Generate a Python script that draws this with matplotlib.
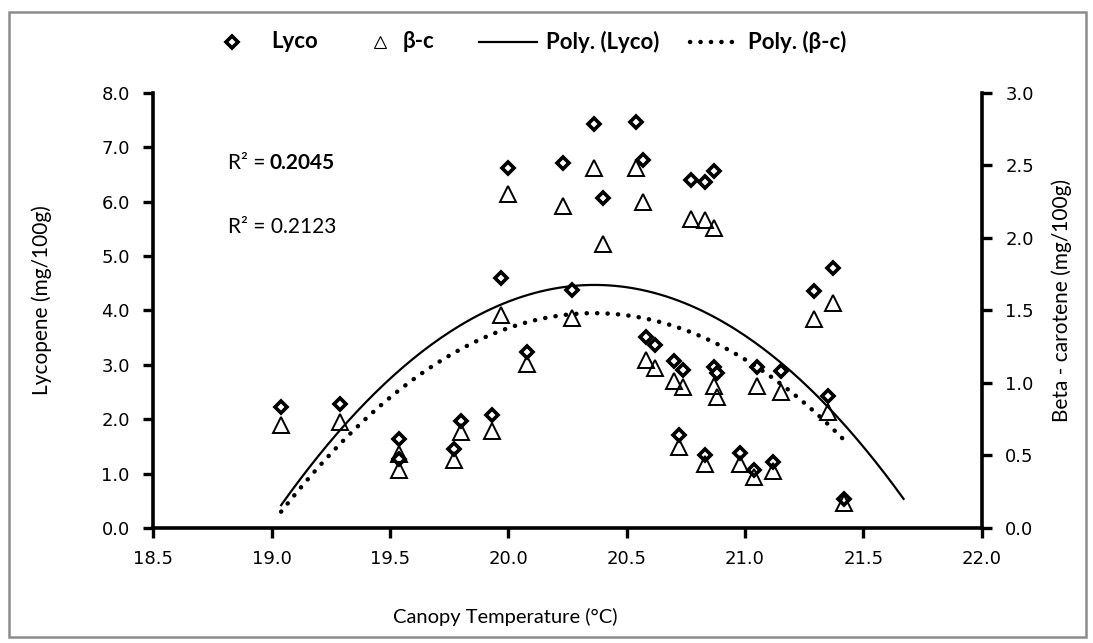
import numpy as np
import matplotlib
matplotlib.use("Agg")
import matplotlib.pyplot as plt
from matplotlib.lines import Line2D
from matplotlib.patches import Rectangle

# ---------------- data ----------------
temperature = [19.04, 19.29, 19.54, 19.54, 19.77, 19.80, 19.93, 19.97, 20.00, 20.08,
               20.23, 20.27, 20.36, 20.40, 20.54, 20.57, 20.58, 20.62, 20.70, 20.72,
               20.74, 20.77, 20.83, 20.83, 20.87, 20.87, 20.88, 20.98, 21.04, 21.05,
               21.12, 21.15, 21.29, 21.35, 21.37, 21.42]
lycopene = [2.22, 2.28, 1.63, 1.26, 1.45, 1.97, 2.07, 4.59, 6.61, 3.23,
            6.70, 4.38, 7.43, 6.07, 7.46, 6.77, 3.51, 3.36, 3.07, 1.71,
            2.91, 6.39, 6.36, 1.34, 6.56, 2.96, 2.84, 1.37, 1.07, 2.95,
            1.22, 2.89, 4.36, 2.43, 4.77, 0.53]
beta_carotene = [0.71, 0.73, 0.51, 0.40, 0.47, 0.66, 0.67, 1.47, 2.30, 1.13,
                 2.22, 1.45, 2.48, 1.96, 2.48, 2.25, 1.16, 1.10, 1.01, 0.56,
                 0.97, 2.13, 2.12, 0.44, 2.07, 0.98, 0.90, 0.44, 0.35, 0.98,
                 0.39, 0.94, 1.44, 0.80, 1.55, 0.17]

x_ticks = [18.5, 19.0, 19.5, 20.0, 20.5, 21.0, 21.5, 22.0]
lyco_ticks = [0, 1, 2, 3, 4, 5, 6, 7, 8]
beta_ticks = [0.0, 0.5, 1.0, 1.5, 2.0, 2.5, 3.0]

legend_labels = ["Lyco", "\u03b2-c", "Poly. (Lyco)", "Poly. (\u03b2-c)"]
r2_labels = ["R\u00b2 = ", "0.2045", "R\u00b2 = 0.2123"]

# ---------------- figure ----------------
W, H = 1093, 643
fig = plt.figure(figsize=(W / 100, H / 100), dpi=100)
fig.patch.set_facecolor("white")

def fx(px):
    return px / W

def fy(py):
    return 1 - py / H

# outer gray frame
fig.patches.append(Rectangle((fx(9), fy(637)), fx(1086) - fx(9), fy(12) - fy(637),
                             transform=fig.transFigure, fill=False,
                             edgecolor="#8c8c8c", linewidth=1.8))

ax_l, ax_r, ax_t, ax_b = 153.3, 981.7, 92.7, 528.0
ax = fig.add_axes([fx(ax_l), fy(ax_b), fx(ax_r) - fx(ax_l), fy(ax_t) - fy(ax_b)])
ax2 = ax.twinx()

tick_font = dict(family="DejaVu Sans", size=13)
label_font = "Lato"

# scatter markers
ax.plot(temperature, lycopene, linestyle="none", marker="D", markersize=6.5,
        markerfacecolor="white", markeredgecolor="black", markeredgewidth=2.6, zorder=3)
ax2.plot(temperature, beta_carotene, linestyle="none", marker="^", markersize=11,
         markerfacecolor="none", markeredgecolor="black", markeredgewidth=1.4, zorder=3)

# polynomial (order 2) trendlines fitted to the data
t = np.array(temperature)
forecast_lyco = 0.25
c_l = np.polyfit(t, np.array(lycopene), 2)
xs_l = np.linspace(t.min(), t.max() + forecast_lyco, 200)
ax.plot(xs_l, np.polyval(c_l, xs_l), color="black", linewidth=1.6, zorder=2)
c_b = np.polyfit(t, np.array(beta_carotene), 2)
xs_b = np.linspace(t.min(), t.max(), 200)
ax2.plot(xs_b, np.polyval(c_b, xs_b), color="black", linewidth=3.2,
         linestyle=(0, (0.05, 2.3)), dash_capstyle="round", zorder=2)

# axes styling
ax.set_xlim(18.5, 22.0)
ax.set_ylim(0, 8)
ax2.set_ylim(0, 3)
ax.set_xticks(x_ticks)
ax.set_xticklabels([f"{v:.1f}" for v in x_ticks], **tick_font)
ax.set_yticks(lyco_ticks)
ax.set_yticklabels([f"{v:.1f}" for v in lyco_ticks], **tick_font)
ax2.set_yticks(beta_ticks)
ax2.set_yticklabels([f"{v:.1f}" for v in beta_ticks], **tick_font)

for a in (ax, ax2):
    a.spines["top"].set_visible(False)
    for s in ("left", "right", "bottom"):
        a.spines[s].set_linewidth(2.6)
    a.tick_params(direction="out", length=7, width=2.4, colors="black")
ax2.spines["left"].set_visible(False)
ax2.spines["bottom"].set_visible(False)
ax.spines["right"].set_visible(False)
ax.tick_params(axis="x", pad=9)
ax.tick_params(axis="y", pad=10)
ax2.tick_params(axis="y", pad=10)

# axis titles
fig.text(fx(505), fy(617), "Canopy Temperature (\u00b0C)", family=label_font,
         fontsize=14.5, ha="center", va="center")
fig.text(fx(42), fy(300), "Lycopene (mg/100g)", family=label_font, fontsize=15,
         rotation=90, ha="center", va="center")
fig.text(fx(1062), fy(300), "Beta - carotene (mg/100g)", family=label_font, fontsize=15,
         rotation=90, ha="center", va="center")

# R^2 annotations
fig.text(fx(228), fy(163), r2_labels[0], family=label_font, fontsize=15, ha="left", va="center")
fig.text(fx(270), fy(163), r2_labels[1], family=label_font, fontsize=15, fontweight="bold",
         ha="left", va="center")
fig.text(fx(228), fy(227), r2_labels[2], family=label_font, fontsize=15, ha="left", va="center")

# legend (manually laid out along the top)
ly = fy(42)
lfs = 16
fig.add_artist(Line2D([fx(232)], [ly], transform=fig.transFigure, marker="D", markersize=6.5,
                      markerfacecolor="white", markeredgecolor="black", markeredgewidth=2.6))
fig.text(fx(271), ly, legend_labels[0], family=label_font, fontsize=lfs, fontweight="bold",
         ha="left", va="center")
fig.add_artist(Line2D([fx(380)], [ly], transform=fig.transFigure, marker="^", markersize=8,
                      markerfacecolor="none", markeredgecolor="black", markeredgewidth=0.8))
fig.text(fx(403), ly, legend_labels[1], family=label_font, fontsize=lfs, fontweight="bold",
         ha="left", va="center")
fig.add_artist(Line2D([fx(479), fx(537)], [ly, ly], transform=fig.transFigure,
                      color="black", linewidth=1.6))
fig.text(fx(546), ly, legend_labels[2], family=label_font, fontsize=lfs, fontweight="bold",
         ha="left", va="center")
fig.add_artist(Line2D([fx(690), fx(742)], [ly, ly], transform=fig.transFigure,
                      color="black", linewidth=3.2, linestyle=(0, (0.05, 2.3)),
                      dash_capstyle="round"))
fig.text(fx(748), ly, legend_labels[3], family=label_font, fontsize=lfs, fontweight="bold",
         ha="left", va="center")

fig.savefig("out.png", dpi=100, facecolor="white")
